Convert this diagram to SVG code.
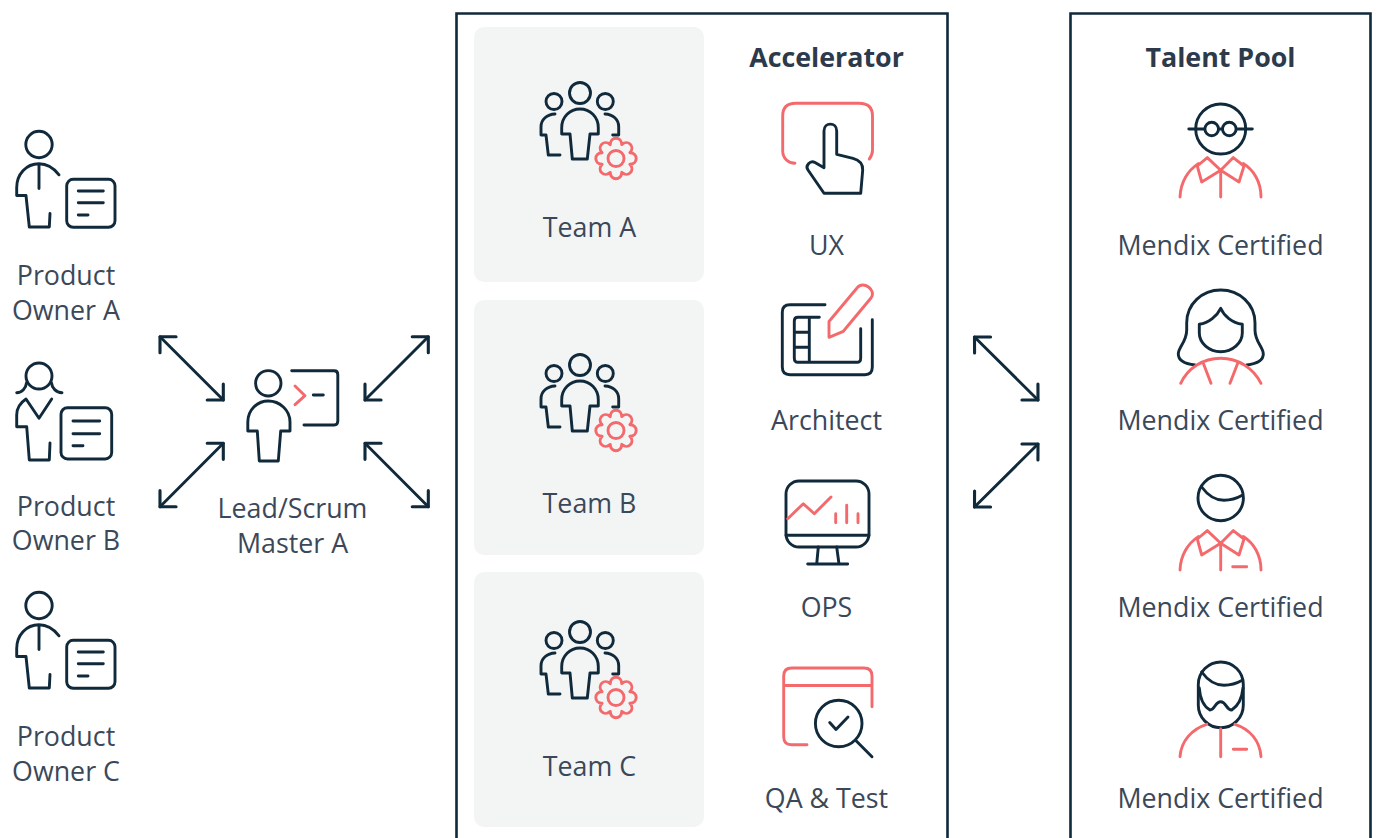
<svg xmlns="http://www.w3.org/2000/svg" xmlns:xlink="http://www.w3.org/1999/xlink" width="1377" height="838" viewBox="0 0 1377 838">
<style>
text{font-family:"Open Sans","Liberation Sans",sans-serif;font-size:26.8px;fill:#3b4859;text-anchor:middle}
.b{font-weight:700;fill:#2c3a4b}
.d,.r,.a{fill:none;stroke-width:2.9;stroke-linecap:round;stroke-linejoin:round}
.d,.a{stroke:#10293b}
.r{stroke:#f46a6c}
.a{marker-start:url(#h);marker-end:url(#h)}
.box{fill:#fff;stroke:#10293b;stroke-width:2.6}
.panel{fill:#f3f5f5}
</style>
<defs>
<marker id="h" markerUnits="userSpaceOnUse" markerWidth="30" markerHeight="30" viewBox="-14 -14 28 28" refX="0" refY="0" orient="auto-start-reverse"><path d="M-10.6 -10.6L0 0L-10.6 10.6" fill="none" stroke="#10293b" stroke-width="2.9" stroke-linecap="round" stroke-linejoin="round"/></marker>
<g id="man">
<circle class="d" cx="39" cy="144.500" r="13.200"/>
<path class="d" d="M59 174.800C54 168.500 47 163.800 39 163.800C26 163.800 16.700 174.500 16.700 187.500V195.500H26L29.300 227H49.300L50 213.500M39 163.800V188.500"/>
<rect class="d" x="66.700" y="179.300" width="48.300" height="48" rx="6.500"/>
<path class="d" d="M78.300 191H103.300M78.300 202.700H103.300M78.300 215H88"/>
</g>
<g id="team">
<circle class="d" cx="580" cy="93" r="10.500"/><circle class="d" cx="554" cy="101.500" r="8"/><circle class="d" cx="605.300" cy="101.500" r="8"/>
<path class="d" d="M561.700 134V127.700C561.700 116.700 570 109 580 109S598.300 116.700 598.300 127.700V134H590L587.300 159H572.300L570 134ZM555 114C547 114.200 541 119.700 541 126.700V135H546L548.300 155H560M605 114C613 114.200 618.700 119.700 618.700 126.700V135H612.700"/>
<g transform="translate(616 158.500)"><circle class="r" r="8"/><path class="r" d="M13.860 -5.740C22.300 -5.560 22.300 5.560 13.860 5.740C19.700 11.850 11.850 19.700 5.740 13.860C5.560 22.300 -5.560 22.300 -5.740 13.860C-11.850 19.700 -19.700 11.850 -13.860 5.740C-22.300 5.560 -22.300 -5.560 -13.860 -5.740C-19.700 -11.850 -11.850 -19.700 -5.740 -13.860C-5.560 -22.300 5.560 -22.300 5.740 -13.860C11.850 -19.700 19.700 -11.850 13.860 -5.740Z"/></g>
</g>
<g id="shirt">
<path class="r" d="M1180 197C1180.500 182.300 1188 170.300 1198.300 163.600M1243.300 163.600C1254 170.300 1261 182.300 1261 197M1197.300 166L1207.300 157.600L1220.700 170.300L1201.700 182ZM1244 166L1233.300 157.600L1220.700 170.300L1239 182ZM1220.700 170.300V197"/>
</g>
</defs>
<g id="connectors">
<path class="a" d="M160 336.700L223.300 400"/>
<path class="a" d="M223.300 443.300L160 506.700"/>
<path class="a" d="M428.300 336.700L365 400"/>
<path class="a" d="M365 443.300L428.300 506.700"/>
<path class="a" d="M974.500 337L1038 400"/>
<path class="a" d="M1038 444L974.500 507"/>
</g>
<g id="owner-a"><use xlink:href="#man"/><text x="66" y="285">Product</text><text x="66" y="320">Owner A</text></g>
<g id="owner-b">
<circle class="d" cx="39" cy="376" r="13"/>
<path class="d" d="M16.700 392.700C22 392.500 26 388 26.500 383M62 392.700C56 392.500 52 388 51.500 383M26 399C20 403 16.700 409 16.700 415V426.700H26.700L29.300 460H49.300L50 443M26 399L39 418.300L51.700 399"/>
<rect class="d" x="61" y="407.700" width="50.700" height="51.300" rx="6.500"/>
<path class="d" d="M73 421H99.700M73 433.700H99.700M73 445.700H83"/>
<text x="66" y="516">Product</text><text x="66" y="550">Owner B</text>
</g>
<g id="owner-c"><use xlink:href="#man" y="461"/><text x="66" y="746">Product</text><text x="66" y="781">Owner C</text></g>
<g id="lead">
<circle class="d" cx="268.300" cy="383.300" r="12.700"/>
<path class="d" d="M247.800 431V422C247.800 410 257 401 268.300 401S290 410 290 422V431H280.700L278.300 461H259.300L257.300 431Z"/>
<path class="d" d="M291.700 370.700H334.300Q337.800 370.700 337.800 374.700V421Q337.800 425 334.300 425H304M313.300 395H323.300"/>
<path class="r" d="M295 386L305 395.700L295 404.700"/>
<text x="292.500" y="518">Lead/Scrum</text><text x="292.500" y="553">Master A</text>
</g>
<g id="accelerator">
<path class="box" d="M456.500 850V13.500H947.500V850"/>
<text class="b" x="826.500" y="67">Accelerator</text>
</g>
<g id="team-a"><rect class="panel" x="474" y="27" width="230" height="255" rx="10"/><use xlink:href="#team"/><text x="589.500" y="237">Team A</text></g>
<g id="team-b"><rect class="panel" x="474" y="300" width="230" height="255" rx="10"/><use xlink:href="#team" y="272"/><text x="589.500" y="513">Team B</text></g>
<g id="team-c"><rect class="panel" x="474" y="572" width="230" height="255" rx="10"/><use xlink:href="#team" y="539"/><text x="589.500" y="776">Team C</text></g>
<g id="ux">
<path class="r" d="M795 163.300C788 163 782.700 158 782.700 151V116Q782.700 103.300 795.700 103.300H859Q872.500 103.300 872.500 116V150Q872.500 155 869.300 159"/>
<path class="d" d="M836.700 154.300V131C836.700 121.800 824 121.800 824 131V167.700L815 162.500C810 160 805 166 808 170L824 193.300H860.700L862.700 170C863 164 859 160 853 158.300Z"/>
<text x="826.500" y="255">UX</text>
</g>
<g id="architect">
<path class="r" d="M829 337.300V321.500L857 288C863 280 877 290 871 298L843.300 331.300Z"/>
<path class="d" d="M825 304.700H790Q782.300 304.700 782.300 312V367Q782.300 374.700 790 374.700H865Q872.300 374.700 872.300 367V319.700M819.300 317.300H798Q794.300 317.300 794.300 321V358Q794.300 362.300 798 362.300H857Q860.700 362.300 860.700 358V328.700M809.300 317.300V362.300M794.300 332.300H809.300M794.300 347.300H809.300"/>
<text x="826.500" y="430">Architect</text>
</g>
<g id="ops">
<rect class="d" x="786" y="481" width="83" height="66" rx="13"/>
<path class="d" d="M786 535.300H869M818.300 547L816.700 564M836.700 547L839 564M807.700 564H847.700"/>
<path class="r" d="M787.700 518.700L803.300 503.700L814.300 513.700L831 497M835.700 513.700V522.700M846.700 505.300V522.700M858 513.700V522.700"/>
<text x="826.500" y="617">OPS</text>
</g>
<g id="qa">
<path class="r" d="M807 744.800H791.700Q783.700 744.800 783.700 736.800V676Q783.700 668 791.700 668H864Q872 668 872 676V706.700M783.700 685.500H872"/>
<circle class="d" cx="838.700" cy="723.500" r="23.300"/>
<path class="d" d="M829.700 722.500L836 729.500L848 717M856.300 741L872 756.700"/>
<text x="826.500" y="808">QA &amp; Test</text>
</g>
<g id="talent-pool">
<path class="box" d="M1070.500 850V13.500H1370.500V850"/>
<text class="b" x="1220.500" y="67">Talent Pool</text>
</g>
<g id="talent-1">
<circle class="d" cx="1220.700" cy="129" r="25"/>
<circle class="d" cx="1211.700" cy="129" r="6.800"/><circle class="d" cx="1229.300" cy="129" r="6.800"/>
<path class="d" d="M1188.800 129H1204.300M1236.700 129H1252.300M1218.500 129H1222.500"/>
<use xlink:href="#shirt"/>
<text x="1220.500" y="255">Mendix Certified</text>
</g>
<g id="talent-2">
<path class="d" d="M1195 365C1186 364 1178.300 361 1178.300 354C1178.300 347 1186.700 342 1186.700 330V323C1186.700 304 1202 290 1220.700 290S1255 304 1255 323V330C1255 342 1263.300 347 1263.300 354C1263.300 361 1255 364 1246.700 365"/>
<path class="d" d="M1220.700 308.300C1217 316 1209 323 1199.300 324.300V333C1199.300 343 1209 351.700 1220.700 351.700S1242.300 343 1242.300 333V324.300C1232 323 1224 316 1220.700 308.300Z"/>
<path class="r" d="M1180.700 383.300C1188 368 1203 358.300 1220.700 358.300S1253 368 1261 383.300M1203.300 363.300L1211 383.300M1237.700 363.300L1230 383.300"/>
<text x="1220.500" y="430">Mendix Certified</text>
</g>
<g id="talent-3">
<circle class="d" cx="1220.700" cy="498" r="22.700"/>
<path class="d" d="M1201.700 487C1207 494.300 1214 500.300 1224 500.300C1231 500.300 1237 498.300 1242.300 495.300"/>
<use xlink:href="#shirt" y="373"/>
<path class="r" d="M1232.700 566.700H1246.700"/>
<text x="1220.500" y="617">Mendix Certified</text>
</g>
<g id="talent-4">
<rect class="d" x="1198.300" y="662" width="45" height="65.700" rx="22.500"/>
<path class="d" d="M1201.700 672C1207 679.300 1214 685.300 1224 685.300C1231 685.300 1237 683.300 1242.300 680.300M1199.300 688C1200 698 1203 706 1210 710C1215 710 1215 701.700 1220.700 701.700S1226 710 1231.700 710C1238 706 1242 698 1243 688"/>
<path class="r" d="M1180 756.700C1181 741 1192 729 1206.700 724.300M1235 724.300C1250 729 1260 741 1261 756.700M1220.700 729V756.700M1233.300 749.300H1246.700"/>
<text x="1220.500" y="808">Mendix Certified</text>
</g>
</svg>
